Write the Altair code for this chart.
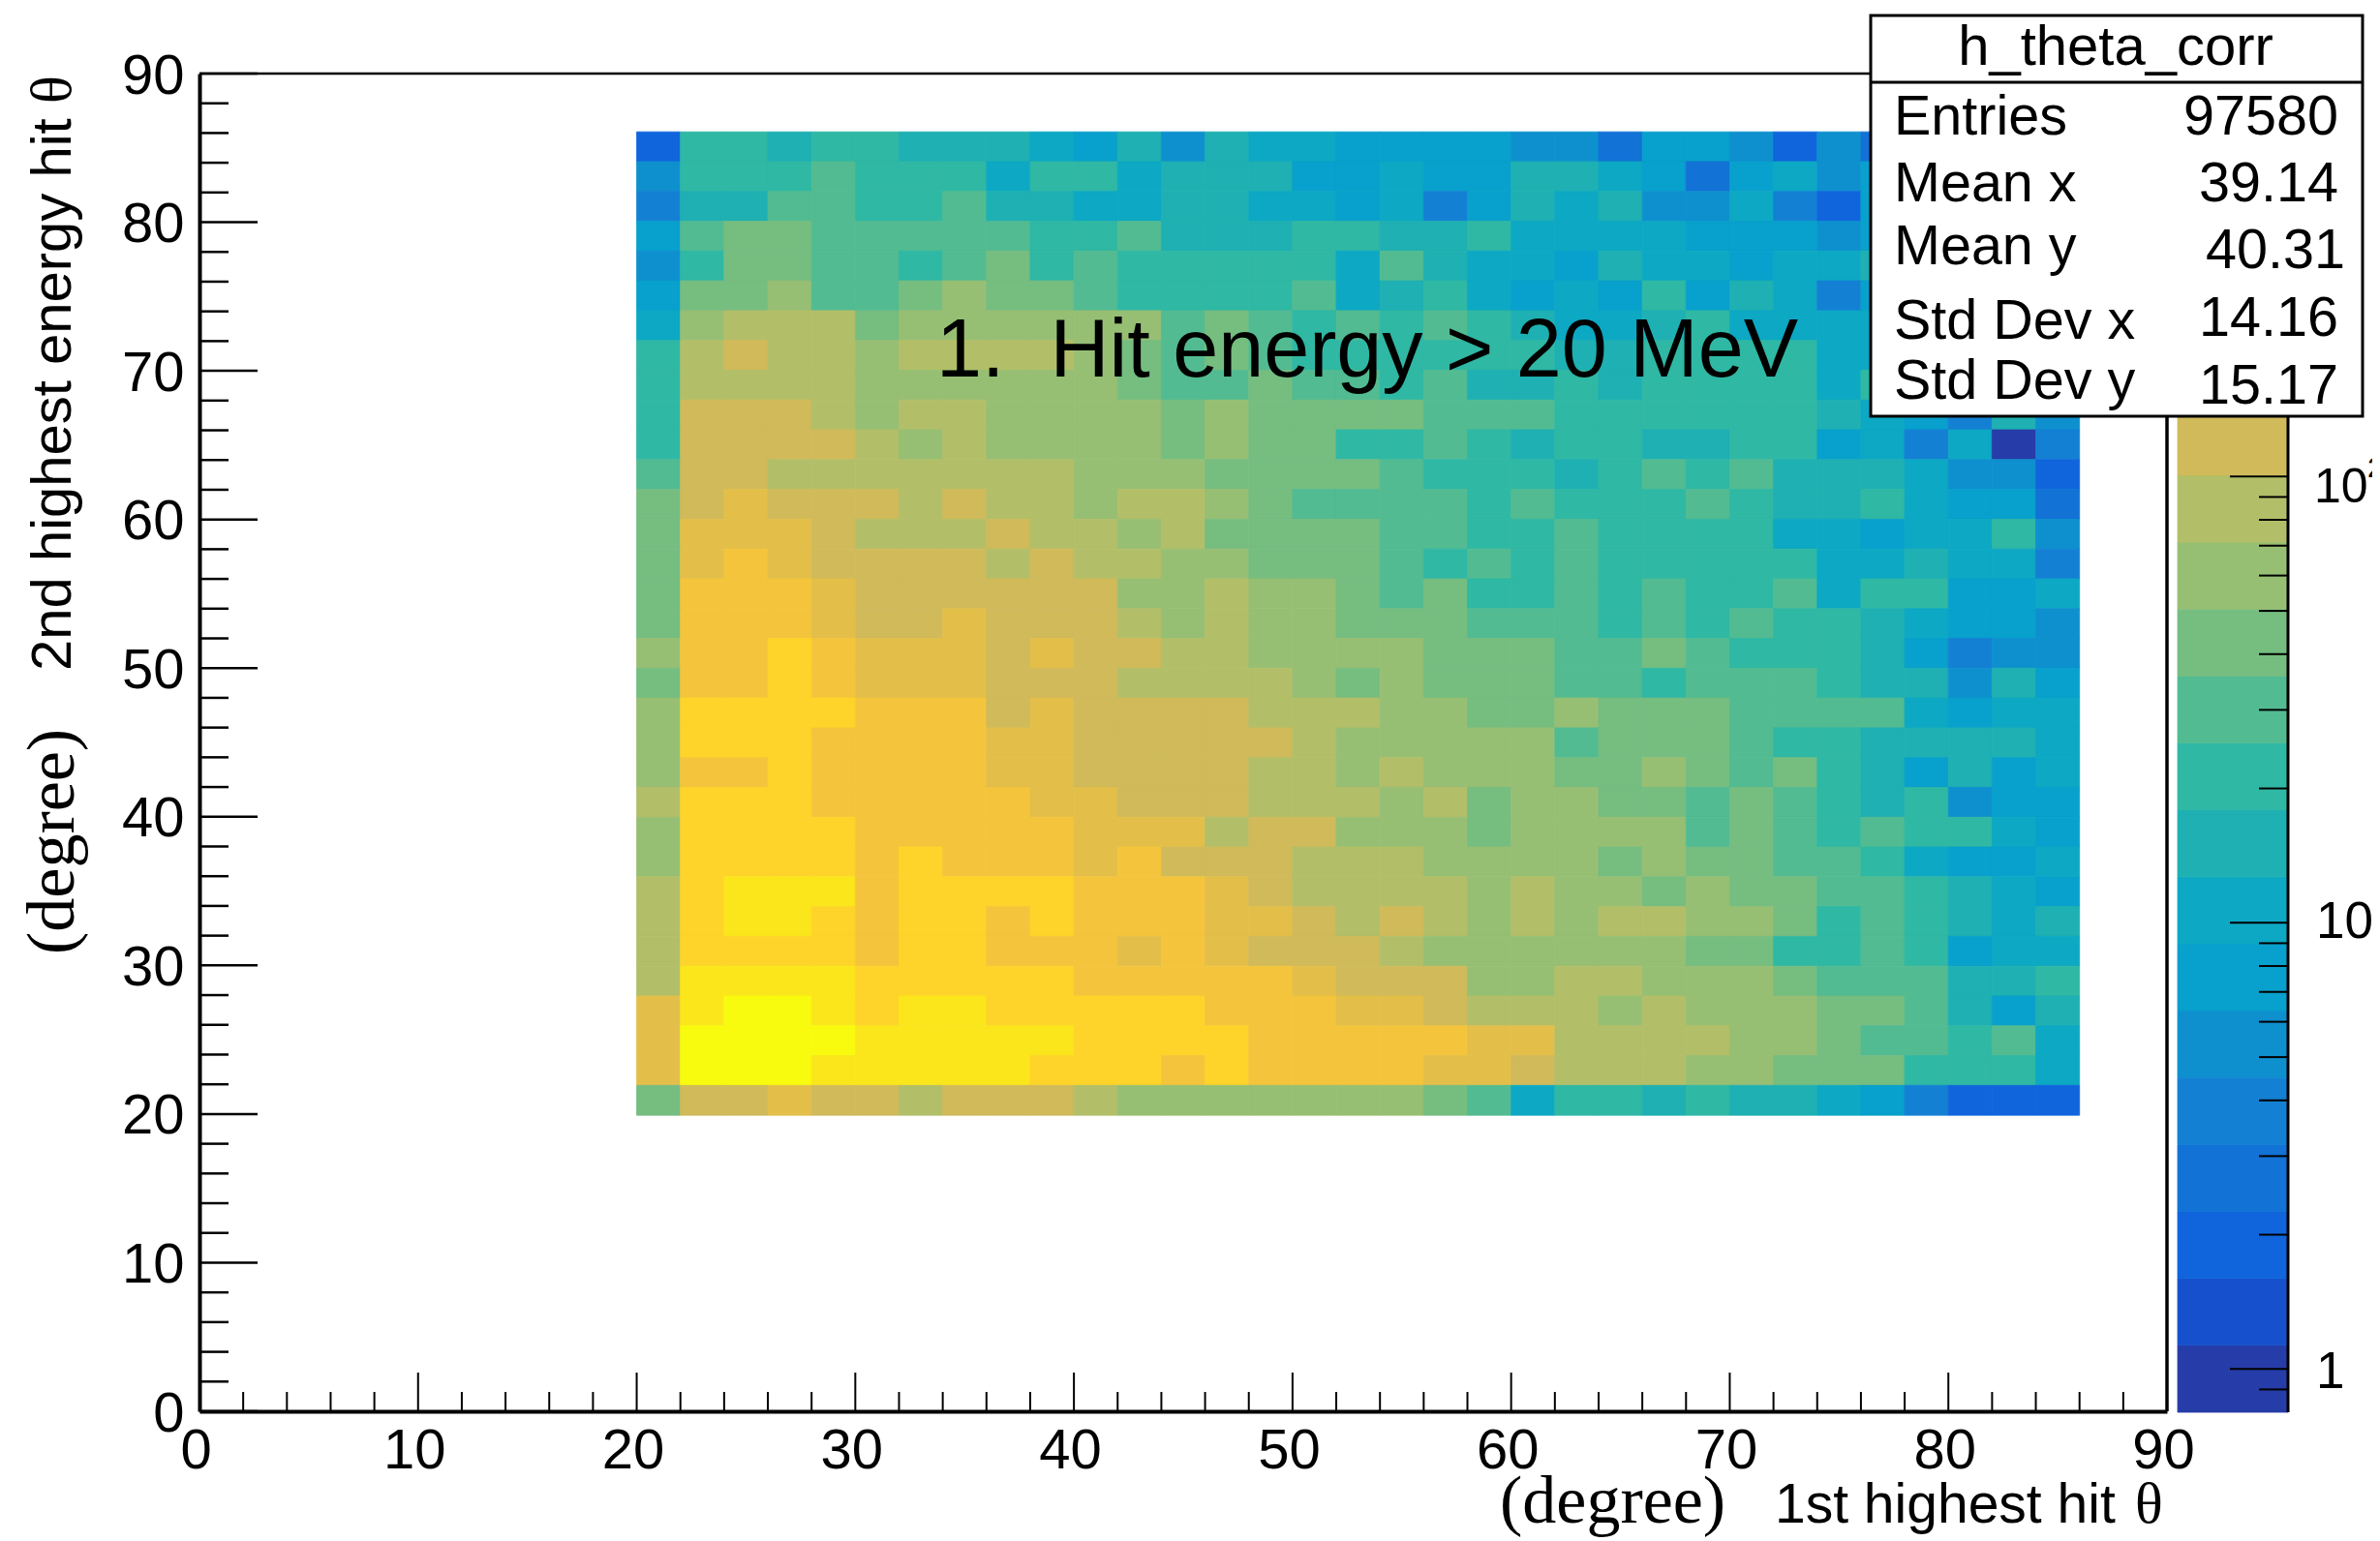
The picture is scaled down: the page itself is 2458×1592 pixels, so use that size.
import altair as alt
import pandas as pd

# ---- data ----------------------------------------------------------------
PALETTE = ["#263ca8", "#1650cc", "#1065dd", "#1272d6", "#1480d4", "#0e90cf", "#08a0cc",
           "#0ca8c4", "#1eb0b2", "#2fb8a4", "#52bb92", "#76bd80", "#97bf74", "#b3bf68",
           "#d0ba5a", "#e3bf4a", "#f4c53c", "#fed42a", "#fbe61c", "#f9fb0e"]

# colour level of each 2-degree bin, top row (y 84-86) first, x from 20 to 86
LEVEL_ROWS = [
    [2,9,9,8,9,9,8,8,8,7,6,8,5,8,7,7,6,6,6,6,5,5,3,6,6,5,2,5,3,5,5,4,4],
    [5,9,9,9,10,9,9,9,7,9,9,7,8,8,8,6,6,7,6,6,8,8,7,6,3,6,7,5,6,5,4,5,5],
    [4,8,8,10,10,9,9,10,8,8,7,7,8,8,7,7,6,7,4,6,8,7,8,5,5,7,4,2,6,6,5,4,3],
    [6,10,11,11,10,10,10,10,10,9,9,10,8,8,8,9,9,8,8,9,7,7,7,7,6,6,6,5,6,5,5,5,5],
    [5,9,11,11,10,10,9,10,11,9,10,9,9,9,9,9,7,10,8,7,7,6,8,7,7,6,7,7,8,6,5,5,5],
    [6,11,11,12,10,10,11,12,11,11,10,9,9,9,9,10,7,8,9,7,6,7,6,9,6,8,7,4,6,5,5,4,4],
    [7,12,13,13,13,11,12,12,12,12,12,12,10,11,10,9,10,9,10,9,8,7,7,8,9,7,7,7,7,6,5,6,5],
    [9,13,14,13,13,12,13,13,13,13,12,11,10,11,10,9,9,9,9,9,9,8,8,9,9,9,9,7,7,7,6,6,6],
    [9,13,13,13,13,12,12,12,12,12,12,11,10,10,11,10,10,9,10,8,8,9,8,9,9,9,9,7,9,7,6,5,6],
    [9,14,14,14,13,12,13,13,12,12,12,12,11,12,11,11,11,11,10,10,10,9,9,9,9,9,9,8,7,6,4,8,5],
    [9,14,14,14,14,13,12,13,12,12,12,12,11,12,11,11,9,9,10,9,8,9,9,8,8,9,9,6,7,4,7,0,4],
    [10,14,14,13,13,13,13,13,13,13,12,12,12,11,11,11,11,10,9,9,9,8,9,10,9,10,8,8,8,7,5,5,2],
    [11,14,15,14,14,14,13,14,13,13,12,13,13,12,11,10,10,10,10,9,10,9,9,9,10,9,8,8,9,7,6,6,3],
    [11,15,15,15,14,13,13,13,14,13,13,12,13,11,11,11,11,10,10,9,9,10,9,9,9,9,7,7,6,7,7,9,5],
    [11,15,16,15,14,14,14,14,13,14,13,13,12,12,11,11,11,10,9,10,9,10,9,9,9,9,9,7,7,8,7,7,4],
    [11,16,16,16,15,14,14,14,14,14,14,12,12,13,12,12,11,10,11,9,9,10,9,10,9,9,10,7,9,9,6,6,7],
    [11,16,16,16,15,14,14,15,14,14,14,13,12,13,12,12,11,11,11,10,10,10,9,10,9,10,9,9,8,7,6,6,5],
    [12,16,16,17,16,15,15,15,14,15,14,14,13,13,12,12,12,12,11,11,11,10,10,11,10,9,9,9,8,6,4,5,5],
    [11,16,16,17,16,15,15,15,14,14,14,13,13,13,13,12,11,12,11,11,11,10,10,9,10,10,10,9,8,8,5,8,6],
    [12,17,17,17,17,16,16,16,14,15,14,14,14,14,13,13,13,12,12,11,11,12,11,11,11,10,10,10,10,7,6,7,7],
    [12,17,17,17,16,16,16,16,15,15,14,14,14,14,14,13,12,12,12,12,12,10,11,11,11,10,9,9,8,8,8,8,7],
    [12,16,16,17,16,16,16,16,15,15,14,14,14,14,13,13,12,13,12,12,12,11,11,12,11,10,11,9,8,6,8,6,7],
    [13,17,17,17,16,16,16,16,16,15,15,14,14,14,13,13,13,12,13,11,12,12,11,11,10,11,10,9,8,9,5,6,6],
    [12,17,17,17,17,16,16,16,16,16,15,15,15,13,14,14,12,12,12,11,12,12,12,12,10,11,10,9,10,9,9,7,6],
    [12,17,17,17,17,16,17,16,16,16,15,16,14,14,14,13,13,13,12,12,12,12,11,12,11,11,10,10,9,7,6,6,7],
    [13,17,18,18,18,16,17,17,17,17,16,16,16,15,14,13,13,13,13,12,13,12,12,11,12,11,11,10,10,9,8,7,6],
    [13,17,18,18,17,16,17,17,16,17,16,16,16,15,15,14,13,14,13,12,13,12,13,13,12,12,11,9,10,9,8,7,8],
    [13,17,17,17,17,16,17,17,16,16,16,15,16,15,14,14,14,13,12,12,12,12,12,12,11,11,9,9,10,9,6,7,7],
    [13,18,18,18,18,17,17,17,17,17,16,16,16,16,16,15,14,14,14,12,12,13,13,12,12,12,11,10,10,10,8,8,9],
    [15,18,19,19,18,17,18,18,17,17,17,17,17,16,16,16,15,15,14,13,13,13,12,13,12,12,12,11,11,10,8,6,8],
    [15,19,19,19,19,18,18,18,18,18,17,17,17,17,16,16,16,16,16,15,15,13,13,13,13,12,12,11,10,10,9,10,7],
    [15,19,19,19,18,18,18,18,18,17,17,17,16,17,16,16,16,16,15,15,14,13,13,13,12,12,11,11,11,9,9,9,7],
    [11,14,14,15,14,14,13,14,14,14,13,12,12,12,12,12,12,12,11,10,7,9,9,8,9,8,8,7,6,4,2,2,2],
]

BIN_WIDTH = 2
X_FIRST = 20
Y_TOP = 86
AXIS_TICKS = list(range(0, 91, 10))
AXIS_MINOR = [v for v in range(2, 90, 2) if v % 10]
AXIS_MINOR_Y = AXIS_MINOR
Z_MIN, Z_MAX = 0.8, 800.0
N_LEVELS = 20
Z_MAJOR = [1, 10, 100]
Z_MINOR = [0.9, 2, 3, 4, 5, 6, 7, 8, 9, 20, 30, 40, 50, 60, 70, 80, 90, 200, 300, 400, 500, 600, 700, 800]

STAT_NAMES = ["Entries", "Mean x", "Mean y", "Std Dev x", "Std Dev y"]
STAT_VALUES = ["97580", "39.14", "40.31", "14.16", "15.17"]

SANS = "Liberation Sans"
SERIF = "Liberation Serif"

W, H = 2442, 1584


def px(v):
    return v - 8


# frame in page pixels
LEFT, RIGHT, TOP, BOTTOM = 206, 2238, 76, 1458
X_SCALE = alt.Scale(domain=[0, 90], range=[px(LEFT), px(RIGHT)], nice=False, zero=False)
Y_SCALE = alt.Scale(domain=[0, 90], range=[px(BOTTOM), px(TOP)], nice=False, zero=False)
# the bitmap of cells sits very slightly taller than the drawn axis
CELL_Y_SCALE = alt.Scale(domain=[0, 90], range=[px(1460), px(74.6)], nice=False, zero=False)
BAR_LEFT, BAR_RIGHT, BAR_TOP, BAR_BOTTOM = 2249, 2363, 76, 1459
Z_SCALE = alt.Scale(type="log", domain=[Z_MIN, Z_MAX], range=[px(BAR_BOTTOM), px(BAR_TOP)], nice=False, zero=False)

# ---- tables ---------------------------------------------------------------
cells = pd.DataFrame(
    [
        {
            "x0": X_FIRST + c * BIN_WIDTH,
            "x1": X_FIRST + (c + 1) * BIN_WIDTH,
            "y1": Y_TOP - r * BIN_WIDTH,
            "y0": Y_TOP - (r + 1) * BIN_WIDTH,
            "level": lvl,
        }
        for r, row in enumerate(LEVEL_ROWS)
        for c, lvl in enumerate(row)
    ]
)
LEVEL_SCALE = alt.Scale(domain=list(range(N_LEVELS)), range=PALETTE)

bands = pd.DataFrame(
    {
        "level": list(range(N_LEVELS)),
        "z0": [Z_MIN * (Z_MAX / Z_MIN) ** (i / N_LEVELS) for i in range(N_LEVELS)],
        "z1": [Z_MIN * (Z_MAX / Z_MIN) ** ((i + 1) / N_LEVELS) for i in range(N_LEVELS)],
    }
)

# ---- heat map with its axes -----------------------------------------------
heat = (
    alt.Chart(cells)
    .mark_rect(strokeWidth=0.8)
    .encode(
        x=alt.X(
            "x0:Q",
            scale=X_SCALE,
            axis=alt.Axis(
                orient="bottom", offset=px(BOTTOM) - H, values=AXIS_TICKS, title=None, grid=False,
                ticks=False, tickSize=0, domainColor="black", domainWidth=4, labelFont=SANS,
                labelFontSize=58, labelColor="black", labelPadding=12, labelOffset=-4,
                labelFlush=False, labelOverlap=False, labelBound=False, format="d",
            ),
        ),
        x2="x1:Q",
        y=alt.Y("y0:Q", scale=CELL_Y_SCALE, axis=None),
        y2="y1:Q",
        color=alt.Color("level:O", scale=LEVEL_SCALE, legend=None),
        stroke=alt.Stroke("level:O", scale=LEVEL_SCALE, legend=None),
    )
)


def xticks(values, length, width):
    return (
        alt.Chart(pd.DataFrame({"v": values}))
        .mark_rule(color="black", strokeWidth=width)
        .encode(
            x=alt.X("v:Q", scale=X_SCALE, axis=None),
            y=alt.value(px(BOTTOM)),
            y2=alt.value(px(BOTTOM) - length),
        )
    )


def yticks(values, length, width, axis=None):
    return (
        alt.Chart(pd.DataFrame({"v": values}))
        .mark_rule(color="black", strokeWidth=width)
        .encode(
            y=alt.Y("v:Q", scale=Y_SCALE, axis=axis),
            x=alt.value(px(LEFT)),
            x2=alt.value(px(LEFT) + length),
        )
    )


def zticks(values, length, width):
    return (
        alt.Chart(pd.DataFrame({"v": values}))
        .mark_rule(color="black", strokeWidth=width)
        .encode(
            y=alt.Y("v:Q", scale=Z_SCALE, axis=None),
            x=alt.value(px(BAR_RIGHT)),
            x2=alt.value(px(BAR_RIGHT) - length),
        )
    )


def line(x0, y0, x1, y1, width):
    return (
        alt.Chart(pd.DataFrame({"a": [0]}))
        .mark_rule(color="black", strokeWidth=width)
        .encode(
            x=alt.value(px(x0)), x2=alt.value(px(x1)),
            y=alt.value(px(y0)), y2=alt.value(px(y1)),
        )
    )


def label(text, x, y, size, font=SANS, align="left", angle=0):
    return (
        alt.Chart(pd.DataFrame({"t": [text]}))
        .mark_text(font=font, fontSize=size, align=align, baseline="alphabetic", angle=angle, color="black")
        .encode(x=alt.value(px(x)), y=alt.value(px(y)), text="t:N")
    )


colorbar = (
    alt.Chart(bands)
    .mark_rect(strokeWidth=0.8)
    .encode(
        x=alt.value(px(BAR_LEFT)),
        x2=alt.value(px(BAR_RIGHT)),
        y=alt.Y("z0:Q", scale=Z_SCALE, axis=None),
        y2="z1:Q",
        color=alt.Color("level:O", scale=LEVEL_SCALE, legend=None),
        stroke=alt.Stroke("level:O", scale=LEVEL_SCALE, legend=None),
    )
)


def zlabel(text, value, x, dy, size):
    return (
        alt.Chart(pd.DataFrame({"t": [text], "v": [value]}))
        .mark_text(font=SANS, fontSize=size, align="left", baseline="middle", dy=dy, color="black")
        .encode(y=alt.Y("v:Q", scale=Z_SCALE, axis=None), x=alt.value(px(x)), text="t:N")
    )


stats_box = (
    alt.Chart(pd.DataFrame({"a": [0]}))
    .mark_rect(fill="white", stroke="black", strokeWidth=3)
    .encode(x=alt.value(px(1932)), x2=alt.value(px(2440)), y=alt.value(px(16)), y2=alt.value(px(430)))
)

NAME_BASE = [139, 208, 273, 350, 412]
VALUE_BASE = [139, 208, 277, 347, 417]
VALUE_RIGHT = [2415, 2415, 2422, 2415, 2415]

Y_AXIS = alt.Axis(
    orient="left", offset=-px(LEFT), values=AXIS_TICKS, title=None, grid=False,
    ticks=False, tickSize=0, domainColor="black", domainWidth=4, labelFont=SANS,
    labelFontSize=58, labelColor="black", labelPadding=16, labelOffset=3,
    labelFlush=False, labelOverlap=False, labelBound=False, format="d",
)

layers = [
    heat,
    xticks(AXIS_MINOR, 20, 2),
    xticks(AXIS_TICKS[1:-1], 40, 2),
    yticks(AXIS_MINOR_Y, 30, 2.5),
    yticks(AXIS_TICKS, 60, 2.5, axis=Y_AXIS),
    line(LEFT, TOP, RIGHT, TOP, 2.5),
    line(RIGHT, TOP, RIGHT, BOTTOM, 3.5),
    colorbar,
    zticks(Z_MINOR, 30, 2),
    zticks(Z_MAJOR, 60, 2),
    line(BAR_RIGHT, BAR_TOP, BAR_RIGHT, BAR_BOTTOM, 3),
    zlabel("1", 1, 2392, 3.5, 53),
    zlabel("10", 10, 2392, 0, 53),
    zlabel("10", 100, 2390, 12, 50),
    zlabel("2", 100, 2445, -8, 30),
    label("1.\u00a0\u00a0Hit energy > 20 MeV", 967, 389, 84.5),
    label("(degree)", 1549, 1573, 70, SERIF),
    label("1st highest hit", 1833, 1573, 57),
    label("\u03b8", 2205, 1573, 60, SERIF),
    label("2nd highest energy hit", 73, 693, 58, angle=270),
    label("\u03b8", 73, 107, 60, SERIF, angle=270),
    label("(degree)", 76, 986, 70, SERIF, angle=270),
    stats_box,
    line(1932, 85, 2440, 85, 3),
    label("h_theta_corr", 2185, 67, 58, align="center"),
]
for name, yb in zip(STAT_NAMES, NAME_BASE):
    layers.append(label(name, 1956, yb, 57.5))
for val, yb, xr in zip(STAT_VALUES, VALUE_BASE, VALUE_RIGHT):
    layers.append(label(val, xr, yb, 57.5, align="right"))

chart = (
    alt.layer(*layers)
    .resolve_scale(x="independent", y="independent", color="independent", stroke="independent")
    .properties(width=W, height=H, padding=0, autosize=alt.AutoSizeParams(type="none"), background="white")
    .configure_view(stroke=None)
)

chart.save("out.html", embed_options={"renderer": "svg", "actions": False})
